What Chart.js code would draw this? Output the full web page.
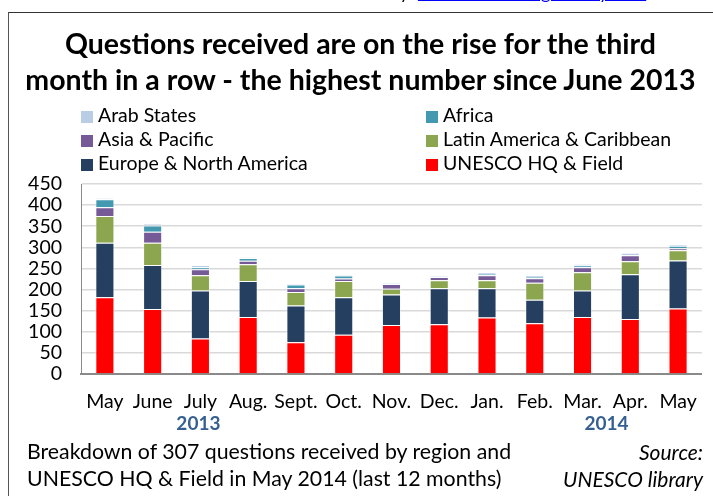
<!DOCTYPE html>
<html>
<head>
<meta charset="utf-8">
<script src="https://cdn.jsdelivr.net/npm/chart.js@4"></script>
<style>
  html, body { margin: 0; padding: 0; background: #fff; }
  body { width: 713px; height: 496px; position: relative; overflow: hidden; font-family: Lato, "Open Sans", sans-serif; color: #000; }
  #grafico { position: absolute; left: 0; top: 0; }
  .marco { position: absolute; left: 8px; top: 12px; width: 720px; height: 500px; border-left: 1px solid #555; border-top: 1px solid #333; }
  .arriba { position: absolute; top: -19px; left: 390px; font-size: 18px; white-space: nowrap; }
  .arriba a { color: #0000ff; }
  .titulo { position: absolute; left: 8px; width: 705px; top: 25px; text-align: center; font-weight: bold; font-size: 28.5px; line-height: 36px; white-space: nowrap; }
  .leyenda { position: absolute; font-size: 19.5px; line-height: 24px; white-space: nowrap; }
  .leyenda span.caja { display: inline-block; width: 12px; height: 12px; margin-right: 5px; vertical-align: -1px; }
  .nota { position: absolute; left: 27px; top: 438px; font-size: 21.3px; line-height: 27px; white-space: nowrap; }
  .fuente { position: absolute; right: 10px; top: 438px; font-size: 21px; line-height: 27px; font-style: italic; text-align: right; white-space: nowrap; }
</style>
</head>
<body>
<canvas id="grafico" width="713" height="496"></canvas>
<div class="marco"></div>
<div class="arriba">by: <a href="#">www.unesco.org/library/info</a></div>
<div class="titulo">Questions received are on the rise for the third<br>month in a row - the highest number since June 2013</div>
<div class="leyenda" id="leyIzq" style="left:81px; top:103px;"></div>
<div class="leyenda" id="leyDer" style="left:426px; top:103px;"></div>
<div class="nota">Breakdown of 307 questions received by region and<br>UNESCO HQ &amp; Field in May 2014 (last 12 months)</div>
<div class="fuente">Source:<br>UNESCO library</div>

<script>
// -----------------------------
// DATOS
// -----------------------------
const meses = ["May", "June", "July", "Aug.", "Sept.", "Oct.", "Nov.", "Dec.", "Jan.", "Feb.", "Mar.", "Apr.", "May"];
const anios = ["2013", "2014"];

const hq      = [182, 154,  84, 135,  75,  93, 116, 118, 134, 120, 135, 130, 155];
const europa  = [129, 104, 114,  85,  87,  89,  72,  85,  69,  56,  63, 106, 114];
const latam   = [ 63,  53,  36,  40,  32,  38,  14,  19,  19,  40,  43,  31,  24];
const asia    = [ 21,  26,  14,   8,   9,   6,  11,   8,  12,  11,  12,  14,   5];
const africa  = [ 19,  15,   5,   7,   9,   7,   1,   1,   3,   3,   4,   1,   6];
const arabes  = [  2,   4,   5,   1,   2,   3,   1,   0,   3,   3,   3,   5,   3];

// orden de apilado: de abajo a arriba
const series = [
    { label: "UNESCO HQ & Field", data: hq, color: "#ff0000" },
    { label: "Europe & North America", data: europa, color: "#243f60" },
    { label: "Latin America & Caribbean", data: latam, color: "#8ba64f" },
    { label: "Asia & Pacific", data: asia, color: "#765a98" },
    { label: "Africa", data: africa, color: "#4299b0" },
    { label: "Arab States", data: arabes, color: "#b9cde5" }
];

// -----------------------------
// LEYENDA (dos columnas, orden inverso)
// -----------------------------
const invertidas = [...series].reverse();
let izq = "", der = "";
invertidas.forEach((s, i) => {
    const fila = `<div><span class="caja" style="background:${s.color}"></span>${s.label.replace("&", "&amp;")}</div>`;
    if (i % 2 === 0) izq += fila; else der += fila;
});
document.getElementById("leyIzq").innerHTML = izq;
document.getElementById("leyDer").innerHTML = der;

// -----------------------------
// AÑOS BAJO EL EJE
// -----------------------------
const etiquetasAnio = {
    id: "etiquetasAnio",
    afterDraw(chart) {
        const x = chart.scales.x;
        const ctx = chart.ctx;
        ctx.save();
        ctx.font = "bold 19px Lato";
        ctx.fillStyle = "#376092";
        ctx.textAlign = "center";
        ctx.textBaseline = "middle";
        ctx.fillText(anios[0], x.getPixelForValue(2) - 2, 424);
        ctx.fillText(anios[1], (x.getPixelForValue(10) + x.getPixelForValue(11)) / 2, 424);
        ctx.restore();
    }
};

// -----------------------------
// GRÁFICO
// -----------------------------
new Chart(document.getElementById("grafico"), {
    type: "bar",
    data: {
        labels: meses,
        datasets: series.map(s => ({
            label: s.label,
            data: s.data,
            backgroundColor: s.color,
            borderColor: "rgba(255,255,255,0.45)",
            borderWidth: 1,
            barPercentage: 0.4,
            categoryPercentage: 1
        }))
    },
    options: {
        responsive: false,
        animation: false,
        layout: { padding: { top: 184, right: 7, left: 0, bottom: 0 } },
        plugins: {
            legend: { display: false },
            title: { display: false },
            tooltip: { enabled: false }
        },
        scales: {
            x: {
                stacked: true,
                grid: { display: false, drawTicks: false },
                border: { color: "#8a8a8a", width: 2 },
                ticks: { color: "#000", font: { family: "Lato", size: 19.5 }, padding: 16, maxRotation: 0, autoSkip: false },
                afterFit: (scale) => { scale.height = 122; }
            },
            y: {
                stacked: true,
                min: 0,
                max: 450,
                grid: { color: "#d9d9d9", lineWidth: 1.5, drawTicks: false },
                border: { color: "#8a8a8a", width: 1 },
                ticks: { stepSize: 50, autoSkip: false, color: "#000", font: { family: "Lato", size: 19.5 }, padding: 19 },
                afterFit: (scale) => { scale.width = 81; }
            }
        }
    },
    plugins: [etiquetasAnio]
});
</script>
</body>
</html>
